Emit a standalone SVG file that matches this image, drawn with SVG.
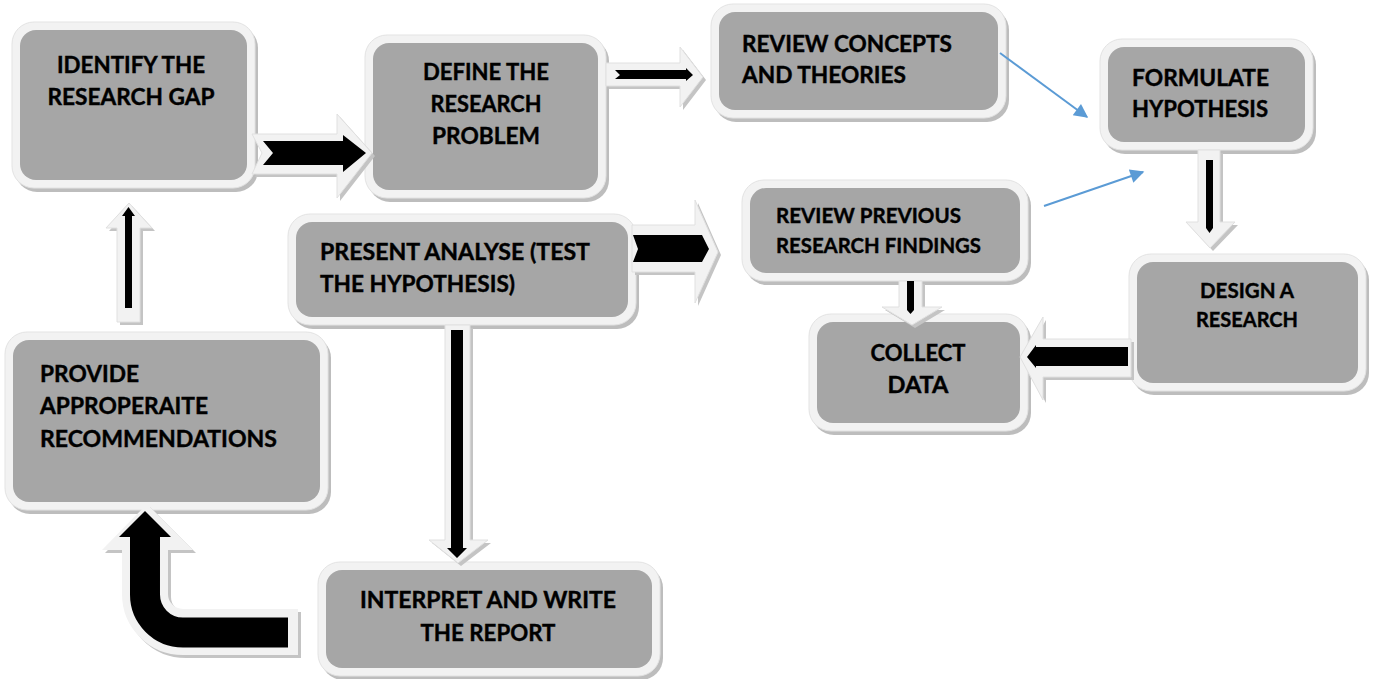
<svg xmlns="http://www.w3.org/2000/svg" width="1375" height="679" viewBox="0 0 1375 679">
<defs>
<style>
.sh{fill:#bdbdbd}
.ob{fill:#f2f2f2;stroke:#e3e3e3;stroke-width:1}
.ib{fill:#a6a6a6}
.t{font-family:Lato,"Open Sans","Liberation Sans",sans-serif;font-weight:bold;font-size:23px;fill:#000;stroke:#000;stroke-width:0.4}
.s{font-size:21px}
.m{text-anchor:middle}
.halo{fill:#f2f2f2;stroke:#e0e0e0;stroke-width:1}
.hsh{fill:#c4c4c4}
.core{fill:#000}
.blue{stroke:#5b9bd5;stroke-width:2;fill:none}
</style>
<marker id="bh" viewBox="0 0 10 10" refX="9" refY="5" markerWidth="17" markerHeight="14" orient="auto" markerUnits="userSpaceOnUse">
<path d="M0,0 L10,5 L0,10 z" fill="#5b9bd5"/>
</marker>
</defs>
<rect width="1375" height="679" fill="#fff"/>

<g id="node-identify">
<rect class="sh" x="15" y="26" width="243" height="166" rx="22"/>
<rect class="ob" x="12" y="22" width="243" height="166" rx="22"/>
<rect class="ib" x="20" y="30" width="227" height="150" rx="16"/>
<text class="t m" x="131" y="73" textLength="148" lengthAdjust="spacingAndGlyphs">IDENTIFY THE</text>
<text class="t m" x="131" y="105" textLength="167" lengthAdjust="spacingAndGlyphs">RESEARCH GAP</text>
</g>

<g id="node-define">
<rect class="sh" x="368" y="39" width="241" height="163" rx="22"/>
<rect class="ob" x="365" y="35" width="241" height="163" rx="22"/>
<rect class="ib" x="373" y="43" width="225" height="147" rx="16"/>
<text class="t m" x="486" y="80" textLength="126" lengthAdjust="spacingAndGlyphs">DEFINE THE</text>
<text class="t m" x="486" y="112" textLength="111" lengthAdjust="spacingAndGlyphs">RESEARCH</text>
<text class="t m" x="486" y="144" textLength="108" lengthAdjust="spacingAndGlyphs">PROBLEM</text>
</g>

<g id="node-review-concepts">
<rect class="sh" x="714" y="8" width="295" height="114" rx="22"/>
<rect class="ob" x="711" y="4" width="295" height="114" rx="22"/>
<rect class="ib" x="719" y="12" width="279" height="98" rx="16"/>
<text class="t" x="742" y="52" textLength="210" lengthAdjust="spacingAndGlyphs">REVIEW CONCEPTS</text>
<text class="t" x="742" y="83" textLength="164" lengthAdjust="spacingAndGlyphs">AND THEORIES</text>
</g>

<g id="node-formulate">
<rect class="sh" x="1103" y="43" width="213" height="111" rx="22"/>
<rect class="ob" x="1100" y="39" width="213" height="111" rx="22"/>
<rect class="ib" x="1108" y="47" width="197" height="95" rx="16"/>
<text class="t" x="1132" y="86" textLength="137" lengthAdjust="spacingAndGlyphs">FORMULATE</text>
<text class="t" x="1132" y="117" textLength="136" lengthAdjust="spacingAndGlyphs">HYPOTHESIS</text>
</g>

<g id="node-review-previous">
<rect class="sh" x="745" y="184" width="286" height="101" rx="22"/>
<rect class="ob" x="742" y="180" width="286" height="101" rx="22"/>
<rect class="ib" x="750" y="188" width="270" height="85" rx="16"/>
<text class="t s" x="776" y="223" textLength="185" lengthAdjust="spacingAndGlyphs">REVIEW PREVIOUS</text>
<text class="t s" x="776" y="253" textLength="205" lengthAdjust="spacingAndGlyphs">RESEARCH FINDINGS</text>
</g>

<g id="node-design">
<rect class="sh" x="1132" y="258" width="237" height="137" rx="22"/>
<rect class="ob" x="1129" y="254" width="237" height="137" rx="22"/>
<rect class="ib" x="1137" y="262" width="221" height="121" rx="16"/>
<text class="t s m" x="1247" y="298" textLength="94" lengthAdjust="spacingAndGlyphs">DESIGN A</text>
<text class="t s m" x="1247" y="327" textLength="102" lengthAdjust="spacingAndGlyphs">RESEARCH</text>
</g>

<g id="node-collect">
<rect class="sh" x="812" y="318" width="219" height="117" rx="22"/>
<rect class="ob" x="809" y="314" width="219" height="117" rx="22"/>
<rect class="ib" x="817" y="322" width="203" height="101" rx="16"/>
<text class="t m" x="918" y="361" textLength="95" lengthAdjust="spacingAndGlyphs">COLLECT</text>
<text class="t m" x="918" y="393" textLength="61" lengthAdjust="spacingAndGlyphs">DATA</text>
</g>

<g id="node-present">
<rect class="sh" x="291" y="218" width="348" height="111" rx="22"/>
<rect class="ob" x="288" y="214" width="348" height="111" rx="22"/>
<rect class="ib" x="296" y="222" width="332" height="95" rx="16"/>
<text class="t" x="320" y="260" textLength="270" lengthAdjust="spacingAndGlyphs">PRESENT ANALYSE (TEST</text>
<text class="t" x="320" y="292" textLength="195" lengthAdjust="spacingAndGlyphs">THE HYPOTHESIS)</text>
</g>

<g id="node-provide">
<rect class="sh" x="8" y="336" width="323" height="178" rx="22"/>
<rect class="ob" x="5" y="332" width="323" height="178" rx="22"/>
<rect class="ib" x="13" y="340" width="307" height="162" rx="16"/>
<text class="t" x="40" y="382" textLength="99" lengthAdjust="spacingAndGlyphs">PROVIDE</text>
<text class="t" x="40" y="414" textLength="168" lengthAdjust="spacingAndGlyphs">APPROPERAITE</text>
<text class="t" x="40" y="447" textLength="237" lengthAdjust="spacingAndGlyphs">RECOMMENDATIONS</text>
</g>

<g id="node-interpret">
<rect class="sh" x="321" y="566" width="342" height="114" rx="22"/>
<rect class="ob" x="318" y="562" width="342" height="114" rx="22"/>
<rect class="ib" x="326" y="570" width="326" height="98" rx="16"/>
<text class="t m" x="488" y="608" textLength="256" lengthAdjust="spacingAndGlyphs">INTERPRET AND WRITE</text>
<text class="t m" x="488" y="641" textLength="135" lengthAdjust="spacingAndGlyphs">THE REPORT</text>
</g>

<g id="connectors">
<g id="c-identify-define">
<polygon class="hsh" transform="translate(3,3)" points="252,134 337,134 337,114 372,153 337,198 337,174 252,174 262,153"/>
<polygon class="halo" points="252,134 337,134 337,114 372,153 337,198 337,174 252,174 262,153"/>
<polygon class="core" points="263,141 343,141 343,135 366,153 343,172 343,165 263,165 273,153"/>
</g>
<g id="c-define-review">
<polygon class="hsh" transform="translate(3,3)" points="606,63 680,63 680,47 703,77 680,107 680,86 606,86"/>
<polygon class="halo" points="606,63 680,63 680,47 703,77 680,107 680,86 606,86"/>
<polygon class="core" points="615,70 686,70 686,68 693,75 686,81 686,79 615,79 620,75"/>
</g>
<g id="c-present-previous">
<polygon class="hsh" transform="translate(3,3)" points="632,225 695,225 695,200 718,252 695,303 695,272 632,272"/>
<polygon class="halo" points="632,225 695,225 695,200 718,252 695,303 695,272 632,272"/>
<polygon class="core" points="633,235 702,235 709,249 702,262 633,262 638,249"/>
</g>
<g id="c-design-collect">
<polygon class="hsh" transform="translate(3,3)" points="1131,339 1043,339 1043,317 1020,357 1043,400 1043,377 1131,377"/>
<polygon class="halo" points="1131,339 1043,339 1043,317 1020,357 1043,400 1043,377 1131,377"/>
<polygon class="core" points="1128,347 1036,347 1036,345 1027,357 1036,368 1036,366 1128,366"/>
</g>
<g id="c-formulate-design">
<polygon class="hsh" transform="translate(3,3)" points="1198,150 1220,150 1220,222 1235,222 1210,248 1186,222 1198,222"/>
<polygon class="halo" points="1198,150 1220,150 1220,222 1235,222 1210,248 1186,222 1198,222"/>
<polygon class="core" points="1206,160 1213,160 1213,228 1209.5,233 1206,228"/>
</g>
<g id="c-previous-collect">
<polygon class="hsh" transform="translate(3,3)" points="899,281 922,281 922,307 942,307 912,325 882,307 899,307"/>
<polygon class="halo" points="899,281 922,281 922,307 942,307 912,325 882,307 899,307"/>
<polygon class="core" points="907,281 914,281 914,310 910.5,314 907,310"/>
</g>
<g id="c-provide-identify">
<polygon class="hsh" transform="translate(3,3)" points="117,322 140,322 140,228 152,228 129,203 106,228 117,228"/>
<polygon class="halo" points="117,322 140,322 140,228 152,228 129,203 106,228 117,228"/>
<polygon class="core" points="125,308 132,308 132,216 135,216 128.5,207 122,216 125,216"/>
</g>
<g id="c-present-interpret">
<polygon class="hsh" transform="translate(3,3)" points="445,325 470,325 470,540 488,540 458,563 429,540 445,540"/>
<polygon class="halo" points="445,325 470,325 470,540 488,540 458,563 429,540 445,540"/>
<polygon class="core" points="451,330 463,330 463,548 467,548 457,558 447,548 451,548"/>
</g>
<g id="c-interpret-provide">
<g transform="translate(3,3)">
<path d="M298 632 H183 A38 38 0 0 1 145 594 V548" fill="none" stroke="#c4c4c4" stroke-width="46"/>
<polygon fill="#c4c4c4" points="102,550 193,550 147,504"/>
</g>
<path d="M298 632 H183 A38 38 0 0 1 145 594 V548" fill="none" stroke="#f2f2f2" stroke-width="46"/>
<polygon fill="#f2f2f2" points="102,550 193,550 147,504"/>
<path d="M288 632.5 H183 A38 38 0 0 1 145 594 V536" fill="none" stroke="#000" stroke-width="30"/>
<polygon class="core" points="119,537 171,537 145,511"/>
</g>
<line id="c-concepts-formulate" class="blue" x1="1000" y1="53" x2="1087" y2="117" marker-end="url(#bh)"/>
<line id="c-previous-formulate" class="blue" x1="1044" y1="206" x2="1143" y2="172" marker-end="url(#bh)"/>
</g>
</svg>
